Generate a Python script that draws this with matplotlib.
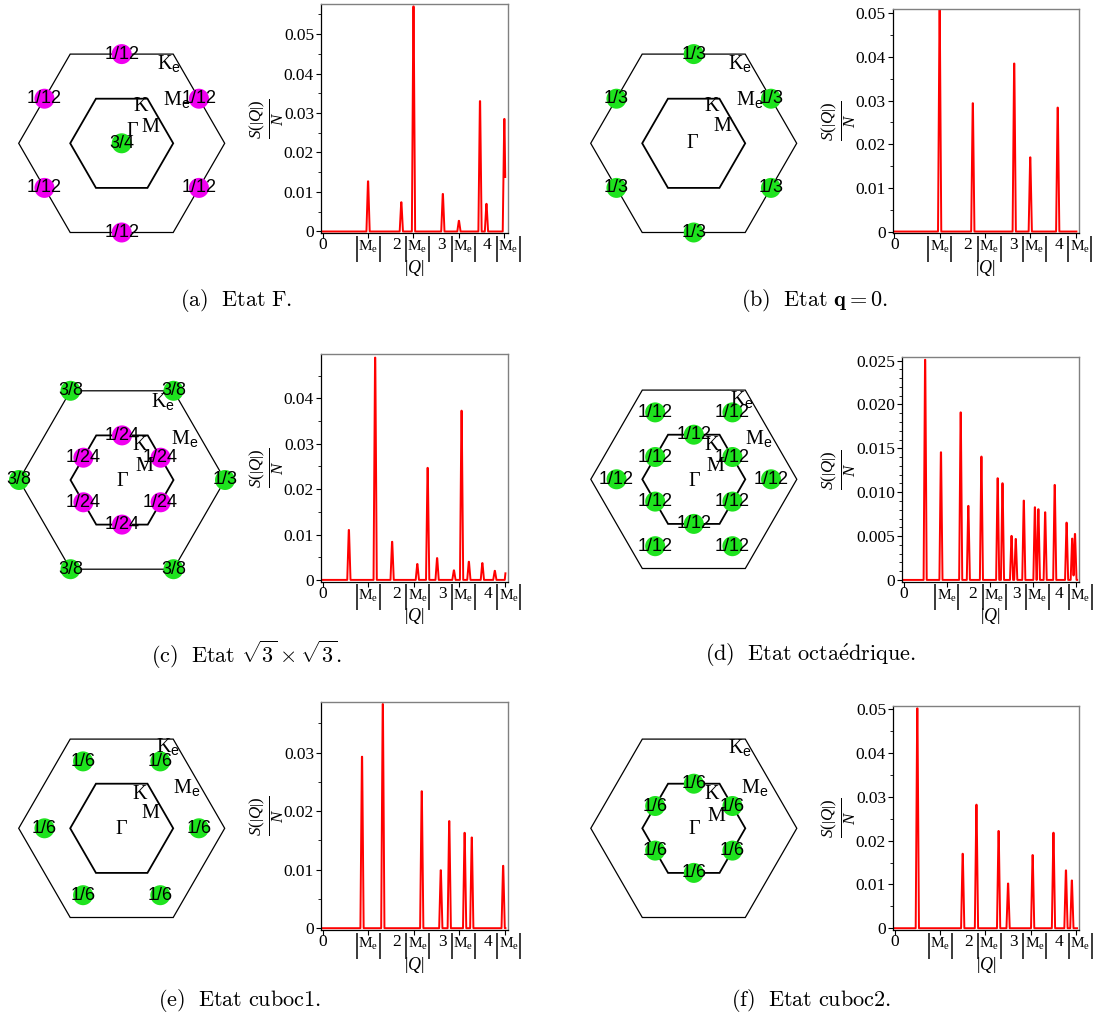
import numpy as np
import matplotlib
matplotlib.use("Agg")
import matplotlib.pyplot as plt
from matplotlib.patches import Circle, Polygon
from matplotlib.ticker import FixedLocator, FixedFormatter, AutoMinorLocator, NullFormatter
from matplotlib.transforms import offset_copy

plt.rcParams['font.family'] = ['Liberation Serif', 'DejaVu Serif']
plt.rcParams['mathtext.fontset'] = 'stix'
plt.rcParams['mathtext.rm'] = 'Liberation Serif'
plt.rcParams['mathtext.it'] = 'Liberation Serif:italic'
plt.rcParams['mathtext.bf'] = 'Liberation Serif:bold'
plt.rcParams['mathtext.sf'] = 'Liberation Sans'

# ---------------- data ----------------
x_ticks = [0, 1, 2, 3, 4]
x_tick_numbers = ["0", "", "2", "3", "4"]          # multiple of |Me|
x_tick_units = ["", "Me", "Me", "Me", "Me"]          # |Me| unit marker
q_end = 4.02

y_ticks_main = [0, 0.01, 0.02, 0.03, 0.04, 0.05]
y_labels_main = ["0", "0.01", "0.02", "0.03", "0.04", "0.05"]
y_ticks_oct = [0, 0.005, 0.010, 0.015, 0.020, 0.025]
y_labels_oct = ["0", "0.005", "0.010", "0.015", "0.020", "0.025"]

# peaks (position in |Me| units, height S/N)
a_peak_q = [1.0, 1.732, 2.0, 2.646, 3.0, 3.464, 3.606, 4.0]
a_peak_s = [0.0127, 0.0074, 0.0570, 0.0095, 0.0027, 0.0330, 0.0070, 0.0285]

b_peak_q = [1.0, 1.732, 2.646, 3.0, 3.606]
b_peak_s = [0.0508, 0.0294, 0.0385, 0.0170, 0.0284]

c_peak_q = [0.577, 1.155, 1.528, 2.082, 2.309, 2.517, 2.887, 3.055, 3.215, 3.512, 3.786, 4.04]
c_peak_s = [0.0110, 0.0490, 0.0084, 0.0035, 0.0247, 0.0048, 0.0021, 0.0373, 0.0040, 0.0037, 0.0020, 0.0030]

d_peak_q = [0.5, 0.866, 1.323, 1.5, 1.803, 2.179, 2.291, 2.5, 2.598, 2.784, 3.041, 3.122,
            3.279, 3.5, 3.775, 3.905, 3.969]
d_peak_s = [0.0251, 0.01455, 0.0191, 0.00844, 0.01406, 0.01159, 0.01102, 0.00502, 0.00467,
            0.00904, 0.00828, 0.00806, 0.00771, 0.01083, 0.00653, 0.00471, 0.00524]

e_peak_q = [0.866, 1.323, 2.179, 2.598, 2.784, 3.122, 3.279, 3.969]
e_peak_s = [0.0293, 0.0383, 0.0234, 0.0099, 0.0183, 0.0163, 0.0155, 0.01066]

f_peak_q = [0.5, 1.5, 1.803, 2.291, 2.5, 3.041, 3.5, 3.775, 3.905]
f_peak_s = [0.0502, 0.0170, 0.0282, 0.0222, 0.0102, 0.0167, 0.0218, 0.0132, 0.0109]

# Brillouin-zone spots: angle (deg), distance (|K| units), weight label, colour
a_dot_angle = [30, 90, 150, 210, 270, 330, 0]
a_dot_dist = [1.732] * 6 + [0.0]
a_dot_text = ["1/12"] * 6 + ["3/4"]
a_dot_color = ["magenta"] * 6 + ["green"]

b_dot_angle = [30, 90, 150, 210, 270, 330]
b_dot_dist = [1.732] * 6
b_dot_text = ["1/3"] * 6
b_dot_color = ["green"] * 6

c_dot_angle = [0, 60, 120, 180, 240, 300, 30, 90, 150, 210, 270, 330]
c_dot_dist = [2.0] * 6 + [0.866] * 6
c_dot_text = ["1/3", "3/8", "3/8", "3/8", "3/8", "3/8"] + ["1/24"] * 6
c_dot_color = ["green"] * 6 + ["magenta"] * 6

d_dot_angle = [30, 90, 150, 210, 270, 330, 0, 60, 120, 180, 240, 300]
d_dot_dist = [0.866] * 6 + [1.5] * 6
d_dot_text = ["1/12"] * 12
d_dot_color = ["green"] * 12

e_dot_angle = [0, 60, 120, 180, 240, 300]
e_dot_dist = [1.5] * 6
e_dot_text = ["1/6"] * 6
e_dot_color = ["green"] * 6

f_dot_angle = [30, 90, 150, 210, 270, 330]
f_dot_dist = [0.866] * 6
f_dot_text = ["1/6"] * 6
f_dot_color = ["green"] * 6

captions = [r"$\mathrm{(a)\ \ Etat\ F.}$",
            r"$\mathrm{(b)\ \ Etat\ }\mathbf{q}=\mathbf{0}.$",
            r"$\mathrm{(c)\ \ Etat\ }\sqrt{3}\times\sqrt{3}.$",
            r"$\mathrm{(d)\ \ Etat\ octa\acute{e}drique.}$",
            r"$\mathrm{(e)\ \ Etat\ cuboc1.}$",
            r"$\mathrm{(f)\ \ Etat\ cuboc2.}$"]

point_names = [r"$\mathrm{K}_{\mathsf{e}}$", r"$\mathrm{M}_{\mathsf{e}}$", "K", "M", "Γ"]

# ---------------- layout (pixels) ----------------
W, H = 1099, 1021
fig = plt.figure(figsize=(W / 100, H / 100), dpi=100)

def frac_rect(l, t, r, b):
    return [l / W, 1 - b / H, (r - l) / W, (b - t) / H]

COLORS = {"green": "#1ee31e", "magenta": "#f000f0"}
PX = 51.5  # pixels per |K|

panels = [
    dict(peaks=(a_peak_q, a_peak_s), dots=(a_dot_angle, a_dot_dist, a_dot_text, a_dot_color),
         center=(121.7, 143.3), rect=(321, 4, 507.5, 233.3), ytop=0.0576, oct=False,
         lab=[(46.8, -80), (55, -44), (18.5, -36.6), (29, -15.6), (11, -11.6)],
         cap=(236, 300), ylab=267),
    dict(peaks=(b_peak_q, b_peak_s), dots=(b_dot_angle, b_dot_dist, b_dot_text, b_dot_color),
         center=(693.7, 143.3), rect=(892.7, 9, 1078.7, 233.3), ytop=0.0510, oct=False,
         lab=[(46.3, -80), (56.3, -44), (18, -36.6), (29, -16.6), (-1, 0)],
         cap=(814, 300), ylab=839),
    dict(peaks=(c_peak_q, c_peak_s), dots=(c_dot_angle, c_dot_dist, c_dot_text, c_dot_color),
         center=(122, 480), rect=(321, 354, 507.7, 581.7), ytop=0.0498, oct=False,
         lab=[(41.3, -78.3), (63, -41.7), (18, -35), (22, -13.3), (0, 1.7)],
         cap=(246, 655), ylab=267),
    dict(peaks=(d_peak_q, d_peak_s), dots=(d_dot_angle, d_dot_dist, d_dot_text, d_dot_color),
         center=(693.8, 479.3), rect=(902, 357.3, 1079.3, 581.7), ytop=0.02538, oct=True,
         lab=[(48, -80), (64.5, -41), (18, -34.3), (22, -12.6), (0, 2.4)],
         cap=(810, 655), ylab=839),
    dict(peaks=(e_peak_q, e_peak_s), dots=(e_dot_angle, e_dot_dist, e_dot_text, e_dot_color),
         center=(121.7, 828.3), rect=(321, 702.3, 507.7, 930), ytop=0.0386, oct=False,
         lab=[(46.7, -81.7), (65, -41), (18.3, -34), (28.3, -15), (0, 1.7)],
         cap=(240, 1000), ylab=267),
    dict(peaks=(f_peak_q, f_peak_s), dots=(f_dot_angle, f_dot_dist, f_dot_text, f_dot_color),
         center=(693.8, 828.3), rect=(893, 705.7, 1079.3, 930), ytop=0.0508, oct=False,
         lab=[(46, -80.6), (61, -41), (18, -34), (23, -11.6), (0, 1.7)],
         cap=(811, 1000), ylab=839),
]

# pixel offsets for the pieces of the x tick labels
TICK_ALONE = dict(bars=(-11.5, 11.5), me=0.0, num=0.0)
TICK_WITH_NUM = dict(bars=(-7.5, 15.5), me=4.0, num=-17.0)

hex_angles = np.deg2rad([0, 60, 120, 180, 240, 300])
q_grid = np.linspace(0, q_end, 4021)
HW, TOP = 0.035, 0.004

for i, p in enumerate(panels):
    # ---- Brillouin zone diagram ----
    cx, cy = p["center"]
    half = 125
    hax = fig.add_axes(frac_rect(cx - half, cy - half, cx + half, cy + half))
    hax.set_xlim(-half / PX, half / PX)
    hax.set_ylim(-half / PX, half / PX)
    hax.set_aspect("equal")
    hax.axis("off")
    for R, lw in ((2.0, 0.9), (1.0, 1.3)):
        verts = np.column_stack([R * np.cos(hex_angles), R * np.sin(hex_angles)])
        hax.add_patch(Polygon(verts, closed=True, fill=False, edgecolor="black", lw=lw, zorder=1))
    ang, dist, txt, col = p["dots"]
    for a, d, t, c in zip(ang, dist, txt, col):
        x = d * np.cos(np.deg2rad(a))
        y = d * np.sin(np.deg2rad(a))
        hax.add_patch(Circle((x, y), 10 / PX, color=COLORS[c], zorder=3, lw=0))
        hax.text(x, y, t, ha="center", va="center", fontsize=13,
                 family=["Liberation Sans", "DejaVu Sans"], zorder=4)
    for name, (dx, dy) in zip(point_names, p["lab"]):
        hax.text(dx / PX, -dy / PX, name, ha="center", va="center", fontsize=14.5, zorder=5,
                 math_fontfamily="custom")

    # ---- structure factor plot ----
    ax = fig.add_axes(frac_rect(*p["rect"]))
    pq, ps = p["peaks"]
    s = np.zeros_like(q_grid)
    for q0, h in zip(pq, ps):
        tri = np.interp(q_grid, [q0 - HW, q0 - TOP, q0 + TOP, q0 + HW], [0, h, h, 0], left=0, right=0)
        s = np.maximum(s, tri)
    ax.plot(q_grid, s, color="#ff0000", lw=1.4)
    ax.set_xlim(-0.035, 4.07)
    ax.set_ylim(-0.008 * p["ytop"], p["ytop"])
    ax.xaxis.set_major_locator(FixedLocator(x_ticks))
    ax.xaxis.set_major_formatter(NullFormatter())
    if p["oct"]:
        ax.yaxis.set_major_locator(FixedLocator(y_ticks_oct))
        ax.yaxis.set_major_formatter(FixedFormatter(y_labels_oct))
        ax.yaxis.set_minor_locator(AutoMinorLocator(5))
    else:
        ax.yaxis.set_major_locator(FixedLocator(y_ticks_main))
        ax.yaxis.set_major_formatter(FixedFormatter(y_labels_main))
        ax.yaxis.set_minor_locator(AutoMinorLocator(2))
    ax.tick_params(axis="both", which="major", direction="out", length=3.5, width=0.8,
                   labelsize=12.5, pad=1.5)
    ax.tick_params(axis="y", which="minor", direction="out", length=2, width=0.6)
    for sp in ("top", "right"):
        ax.spines[sp].set_color("#808080")
        ax.spines[sp].set_linewidth(1.0)
    for sp in ("left", "bottom"):
        ax.spines[sp].set_color("black")
        ax.spines[sp].set_linewidth(0.9)

    # x tick labels: "n |Me|" with tall bars
    xt = ax.get_xaxis_transform()
    for xv, num, unit in zip(x_ticks, x_tick_numbers, x_tick_units):
        lay = TICK_WITH_NUM if num else TICK_ALONE
        if unit:
            for dx in lay["bars"]:
                ax.text(xv, 0, "|", fontsize=21, ha="center", va="center",
                        transform=offset_copy(xt, fig=fig, x=dx, y=-15.5, units="dots"))
            ax.text(xv, 0, r"$\mathrm{M}_{\mathrm{e}}$", fontsize=11, ha="center", va="top",
                    math_fontfamily="custom",
                    transform=offset_copy(xt, fig=fig, x=lay["me"], y=-6, units="dots"))
            numdx = lay["num"]
        else:
            numdx = 0
        if num:
            ax.text(xv, 0, num, fontsize=12.5, ha="center", va="center",
                    transform=offset_copy(xt, fig=fig, x=numdx, y=-12, units="dots"))
    l, t, r, b = p["rect"]
    # axis labels
    fig.text(((l + r) / 2) / W, 1 - 268 / H - (b - 233.3) / H, r"$\left|Q\right|$",
             fontsize=13, ha="center", va="center", math_fontfamily="custom")
    fig.text(p["ylab"] / W, 1 - ((t + b) / 2) / H, r"$\frac{S(\left|Q\right|)}{N}$",
             fontsize=17.5, ha="center", va="center", rotation=90, math_fontfamily="custom")

    # ---- caption ----
    cxp, cyp = p["cap"]
    fig.text(cxp / W, 1 - cyp / H, captions[i], ha="center", va="center", fontsize=16,
             math_fontfamily="cm")

fig.savefig("out.png", dpi=100)
